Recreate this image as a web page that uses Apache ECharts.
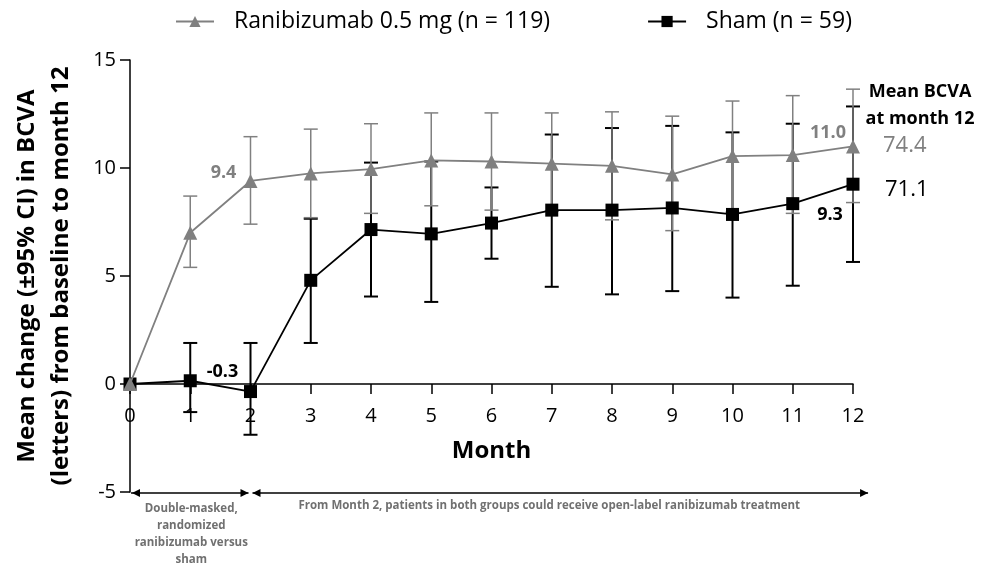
<!DOCTYPE html>
<html>
<head>
<meta charset="utf-8">
<script src="https://cdn.jsdelivr.net/npm/echarts@6/dist/echarts.min.js"></script>
<style>
html,body{margin:0;padding:0;background:#fff;}
#chart{width:981px;height:565px;}
</style>
</head>
<body>
<div id="chart"></div>
<script>
// ---- data ----
var months = [0, 1, 2, 3, 4, 5, 6, 7, 8, 9, 10, 11, 12];
var ranibMean  = [0, 7.0, 9.4, 9.75, 9.95, 10.35, 10.3, 10.2, 10.1, 9.7, 10.55, 10.6, 11.0];
var ranibLower = [null, 5.4, 7.4, 7.7, 7.9, 8.25, 8.05, 8.0, 7.6, 7.1, 7.95, 7.9, 8.4];
var ranibUpper = [null, 8.7, 11.45, 11.8, 12.05, 12.55, 12.55, 12.55, 12.6, 12.4, 13.1, 13.35, 13.65];
var shamMean  = [0, 0.15, -0.35, 4.8, 7.15, 6.95, 7.45, 8.05, 8.05, 8.15, 7.85, 8.35, 9.25];
var shamLower = [null, -1.3, -2.35, 1.9, 4.05, 3.8, 5.8, 4.5, 4.15, 4.3, 4.0, 4.55, 5.65];
var shamUpper = [null, 1.9, 1.9, 7.65, 10.25, 10.3, 9.1, 11.55, 11.85, 11.95, 11.65, 12.05, 12.85];
var yMin = -5, yMax = 15, yStep = 5;
var seriesNames = ['Ranibizumab 0.5 mg (n = 119)', 'Sham (n = 59)'];
var bcvaAt12 = ['74.4', '71.1'];

var GRAY = '#808080';
var FONT = 'Open Sans';
var GRID = { left: 130, right: 128, top: 60, bottom: 73 };
var plotH = 565 - GRID.top - GRID.bottom;
var zeroOffset = -plotH * (0 - yMin) / (yMax - yMin);

function pairs(ys) { return months.map(function (m, i) { return [m, ys[i]]; }); }
function errData(lo, hi) {
  var out = [];
  months.forEach(function (m, i) { if (lo[i] != null) out.push([m, lo[i], hi[i]]); });
  return out;
}
function errRender(color, width, capHalf) {
  return function (params, api) {
    var x = api.value(0);
    var p1 = api.coord([x, api.value(1)]);
    var p2 = api.coord([x, api.value(2)]);
    var st = { stroke: color, lineWidth: width };
    return { type: 'group', children: [
      { type: 'line', shape: { x1: p1[0], y1: p1[1], x2: p2[0], y2: p2[1] }, style: st },
      { type: 'line', shape: { x1: p1[0] - capHalf, y1: p1[1], x2: p1[0] + capHalf, y2: p1[1] }, style: st },
      { type: 'line', shape: { x1: p2[0] - capHalf, y1: p2[1], x2: p2[0] + capHalf, y2: p2[1] }, style: st }
    ]};
  };
}

var chart = echarts.init(document.getElementById('chart'), null, { renderer: 'canvas' });
chart.setOption({
  animation: false,
  textStyle: { fontFamily: FONT },
  legend: {
    data: seriesNames,
    left: 170, top: 5,
    itemWidth: 38, itemHeight: 14, itemGap: 97,
    textStyle: { fontFamily: FONT, fontSize: 23, color: '#000', padding: [0, 0, 0, 15] }
  },
  grid: { left: GRID.left, right: GRID.right, top: GRID.top, bottom: GRID.bottom,
          containLabel: false, outerBoundsMode: 'none' },
  xAxis: {
    type: 'value', min: 0, max: 12, interval: 1,
    offset: zeroOffset,
    axisLine: { onZero: false, lineStyle: { color: '#000', width: 1.5 } },
    axisTick: { show: true, length: 10, lineStyle: { color: '#000', width: 1.5 } },
    axisLabel: { margin: 22, fontSize: 20, color: '#000', fontFamily: FONT },
    splitLine: { show: false },
    name: 'Month', nameLocation: 'middle', nameGap: 55,
    nameTextStyle: { fontSize: 24, fontWeight: 'bold', color: '#000', fontFamily: FONT }
  },
  yAxis: {
    type: 'value', min: yMin, max: yMax, interval: yStep,
    axisLine: { show: true, onZero: false, lineStyle: { color: '#000', width: 1.5 } },
    axisTick: { show: true, length: 10, lineStyle: { color: '#000', width: 1.5 } },
    axisLabel: { margin: 14, fontSize: 20, color: '#000', fontFamily: FONT },
    splitLine: { show: false }
  },
  series: [
    { type: 'custom', name: 'shamErr', data: errData(shamLower, shamUpper),
      renderItem: errRender('#000', 2, 7), encode: { x: 0, y: [1, 2] }, z: 2 },
    { type: 'custom', name: 'ranibErr', data: errData(ranibLower, ranibUpper),
      renderItem: errRender(GRAY, 1.5, 7), encode: { x: 0, y: [1, 2] }, z: 3 },
    { type: 'line', name: seriesNames[1], data: pairs(shamMean),
      symbol: 'rect', symbolSize: 13, itemStyle: { color: '#000' },
      lineStyle: { color: '#000', width: 1.8 }, z: 4 },
    { type: 'line', name: seriesNames[0], data: pairs(ranibMean),
      symbol: 'triangle', symbolSize: 14, itemStyle: { color: GRAY },
      lineStyle: { color: GRAY, width: 1.8 }, z: 5 }
  ]
});

function px(x, y) { return chart.convertToPixel({ gridIndex: 0 }, [x, y]); }
var last = months.length - 1;
var pR2 = px(months[2], ranibMean[2]);
var pS2 = px(months[2], shamMean[2]);
var pR12 = px(months[last], ranibMean[last]);
var pS12 = px(months[last], shamMean[last]);
var p0m5 = px(0, yMin);
var p2m5 = px(2, yMin);
var pEnd = px(12.25, yMin);
var yMid = (px(0, yMax)[1] + px(0, yMin)[1]) / 2;

function txt(x, y, text, size, color, weight, align, vAlign, lineHeight) {
  var s = { text: text, fill: color, font: (weight || 'normal') + ' ' + size + 'px "' + FONT + '"',
            textAlign: align || 'center', textVerticalAlign: vAlign || 'middle' };
  if (lineHeight) s.lineHeight = lineHeight;
  return { type: 'text', x: x, y: y, style: s, z: 10 };
}
function arrowHead(x, y, dir) {
  var L = 8, H = 4;
  return { type: 'polygon', shape: { points: [[x, y], [x - dir * L, y - H], [x - dir * L, y + H]] },
           style: { fill: '#000' }, z: 10 };
}
function hline(x1, x2, y) {
  return { type: 'line', shape: { x1: x1, y1: y, x2: x2, y2: y }, style: { stroke: '#000', lineWidth: 1.5 }, z: 10 };
}

var yA = p0m5[1] + 1;
var g = [
  { type: 'text', x: 27, y: yMid, rotation: Math.PI / 2,
    style: { text: 'Mean change (±95% CI) in BCVA', font: 'bold 24px "' + FONT + '"', fill: '#000',
             textAlign: 'center', textVerticalAlign: 'middle' } },
  { type: 'text', x: 61, y: yMid, rotation: Math.PI / 2,
    style: { text: '(letters) from baseline to month 12', font: 'bold 24px "' + FONT + '"', fill: '#000',
             textAlign: 'center', textVerticalAlign: 'middle' } },
  txt(pR2[0] - 27, pR2[1] - 8, ranibMean[2].toFixed(1), 18, GRAY, 'bold'),
  txt(pS2[0] - 28, pS2[1] - 20, '-0.3', 18, '#000', 'bold'),
  txt(pR12[0] - 25, pR12[1] - 14, ranibMean[last].toFixed(1), 18, GRAY, 'bold'),
  txt(pS12[0] - 23, pS12[1] + 31, '9.3', 18, '#000', 'bold'),
  txt(pR12[0] + 67, 92, 'Mean BCVA', 18, '#000', 'bold'),
  txt(pR12[0] + 67, 119, 'at month 12', 18, '#000', 'bold'),
  txt(pR12[0] + 30, pR12[1] - 1, bcvaAt12[0], 22, GRAY, 'normal', 'left'),
  txt(pR12[0] + 32, pS12[1] + 6, bcvaAt12[1], 22, '#000', 'normal', 'left'),
  hline(p0m5[0] + 1, p2m5[0] - 2, yA),
  arrowHead(p0m5[0] + 2, yA, -1),
  arrowHead(p2m5[0] - 2, yA, 1),
  hline(p2m5[0] + 2, pEnd[0], yA),
  arrowHead(p2m5[0] + 2, yA, -1),
  arrowHead(pEnd[0], yA, 1),
  txt((p0m5[0] + p2m5[0]) / 2 + 1, yA + 7, 'Double-masked,\nrandomized\nranibizumab versus\nsham', 11.5, '#707070', 'bold', 'center', 'top', 17),
  txt((p2m5[0] + pEnd[0]) / 2 - 10, yA + 13, 'From Month 2, patients in both groups could receive open-label ranibizumab treatment', 11.5, '#707070', 'bold')
];
chart.setOption({ graphic: g });
</script>
</body>
</html>
